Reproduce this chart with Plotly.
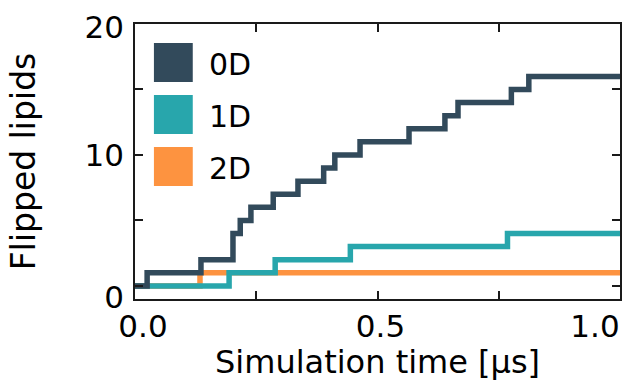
import plotly.graph_objects as go

# ---- data ----
t_0d = [0.0, 0.025, 0.136, 0.202, 0.217, 0.239, 0.285, 0.336, 0.389, 0.412, 0.464, 0.565, 0.639, 0.666, 0.776, 0.812, 1.0]
n_0d = [0, 1, 2, 4, 5, 6, 7, 8, 9, 10, 11, 12, 13, 14, 15, 16, 16]
t_1d = [0.0, 0.194, 0.289, 0.444, 0.768, 1.0]
n_1d = [0, 1, 2, 3, 4, 4]
t_2d = [0.0, 0.134, 1.0]
n_2d = [0, 1, 1]

series_names = ["0D", "1D", "2D"]
series_colors = ["#324A5B", "#28A6AC", "#FD9340"]
x_tick_vals = [0.0, 0.5, 1.0]
x_tick_text = ["0.0", "0.5", "1.0"]
y_tick_vals = [0, 10, 20]
y_tick_text = ["0", "10", "20"]
x_title = "Simulation time [µs]"
y_title = "Flipped lipids"

FONT = "DejaVu Sans"
AX = "#1a1a1a"
W, H = 625, 382
ML, MR, MT, MB = 135, 3, 24, 83

fig = go.Figure()
data = {"0D": (t_0d, n_0d), "1D": (t_1d, n_1d), "2D": (t_2d, n_2d)}
for name, col in reversed(list(zip(series_names, series_colors))):
    t, n = data[name]
    fig.add_trace(go.Scatter(x=t, y=n, mode="lines", line=dict(color=col, width=5.5, shape="hv"),
                             name=name, showlegend=False))

common_tick = dict(ticks="inside", ticklen=8, tickwidth=1.6, tickcolor=AX, showline=True,
                   linecolor=AX, linewidth=1.6, mirror="allticks", showgrid=False, zeroline=False,
                   showticklabels=False)
lab_font = dict(family=FONT, size=31, color="black")

layout = dict(
    width=W, height=H, margin=dict(l=ML, r=MR, t=MT, b=MB),
    paper_bgcolor="white", plot_bgcolor="white", showlegend=False,
    xaxis=dict(range=[0, 1.0], tickvals=x_tick_vals,
               minor=dict(tickvals=[0.25, 0.75], ticks="inside", ticklen=4, tickwidth=1.6, tickcolor=AX),
               **common_tick),
    yaxis=dict(range=[-1, 20], tickvals=y_tick_vals,
               minor=dict(tickvals=[5, 15], ticks="inside", ticklen=4, tickwidth=1.6, tickcolor=AX),
               title=dict(text=y_title, font=dict(family=FONT, size=33, color="black"), standoff=88),
               **common_tick),
)

# separate overlaid axes carry the individual tick labels (each with its own small shift)
x_shifts = [8, 3, -25]
for i, (v, txt, sh) in enumerate(zip(x_tick_vals, x_tick_text, x_shifts)):
    layout[f"xaxis{i+2}"] = dict(overlaying="x", anchor="y", side="bottom", range=[0, 1.0], tickvals=[v], ticktext=[txt],
                                 ticks="", showline=False, showgrid=False, zeroline=False,
                                 tickfont=lab_font, ticklabelshift=sh, ticklabelstandoff=6)
    fig.add_trace(go.Scatter(x=[], y=[], xaxis=f"x{i+2}", yaxis="y", showlegend=False, hoverinfo="skip"))
y_shifts = [11, 0, 3]
for i, (v, txt, sh) in enumerate(zip(y_tick_vals, y_tick_text, y_shifts)):
    layout[f"yaxis{i+2}"] = dict(overlaying="y", anchor="x", side="left", range=[-1, 20], tickvals=[v], ticktext=[txt],
                                 ticks="", showline=False, showgrid=False, zeroline=False,
                                 tickfont=lab_font, ticklabelshift=sh, ticklabelstandoff=10)
    fig.add_trace(go.Scatter(x=[], y=[], xaxis="x", yaxis=f"y{i+2}", showlegend=False, hoverinfo="skip"))
fig.update_layout(**layout)

pw, ph = W - ML - MR, H - MT - MB
def px(x):
    return (x - ML) / pw
def py(y):
    return (H - MB - y) / ph

# x-axis title as a text placed under the tick labels
fig.add_annotation(xref="paper", yref="paper", x=0.5, y=py(362), text=x_title, showarrow=False,
                   xanchor="center", yanchor="middle", font=dict(family=FONT, size=32, color="black"))

# manual legend (large colour squares + labels)
sq_tops = [43, 95, 147]
for name, col, top in zip(series_names, series_colors, sq_tops):
    fig.add_shape(type="rect", xref="paper", yref="paper", x0=px(154), x1=px(193), y0=py(top + 39), y1=py(top),
                  fillcolor=col, line=dict(width=0), layer="above")
    fig.add_annotation(xref="paper", yref="paper", x=px(207), y=py(top + 21), text=name, showarrow=False,
                       xanchor="left", yanchor="middle", font=dict(family=FONT, size=30, color="black"))

fig.write_html("out.html")
